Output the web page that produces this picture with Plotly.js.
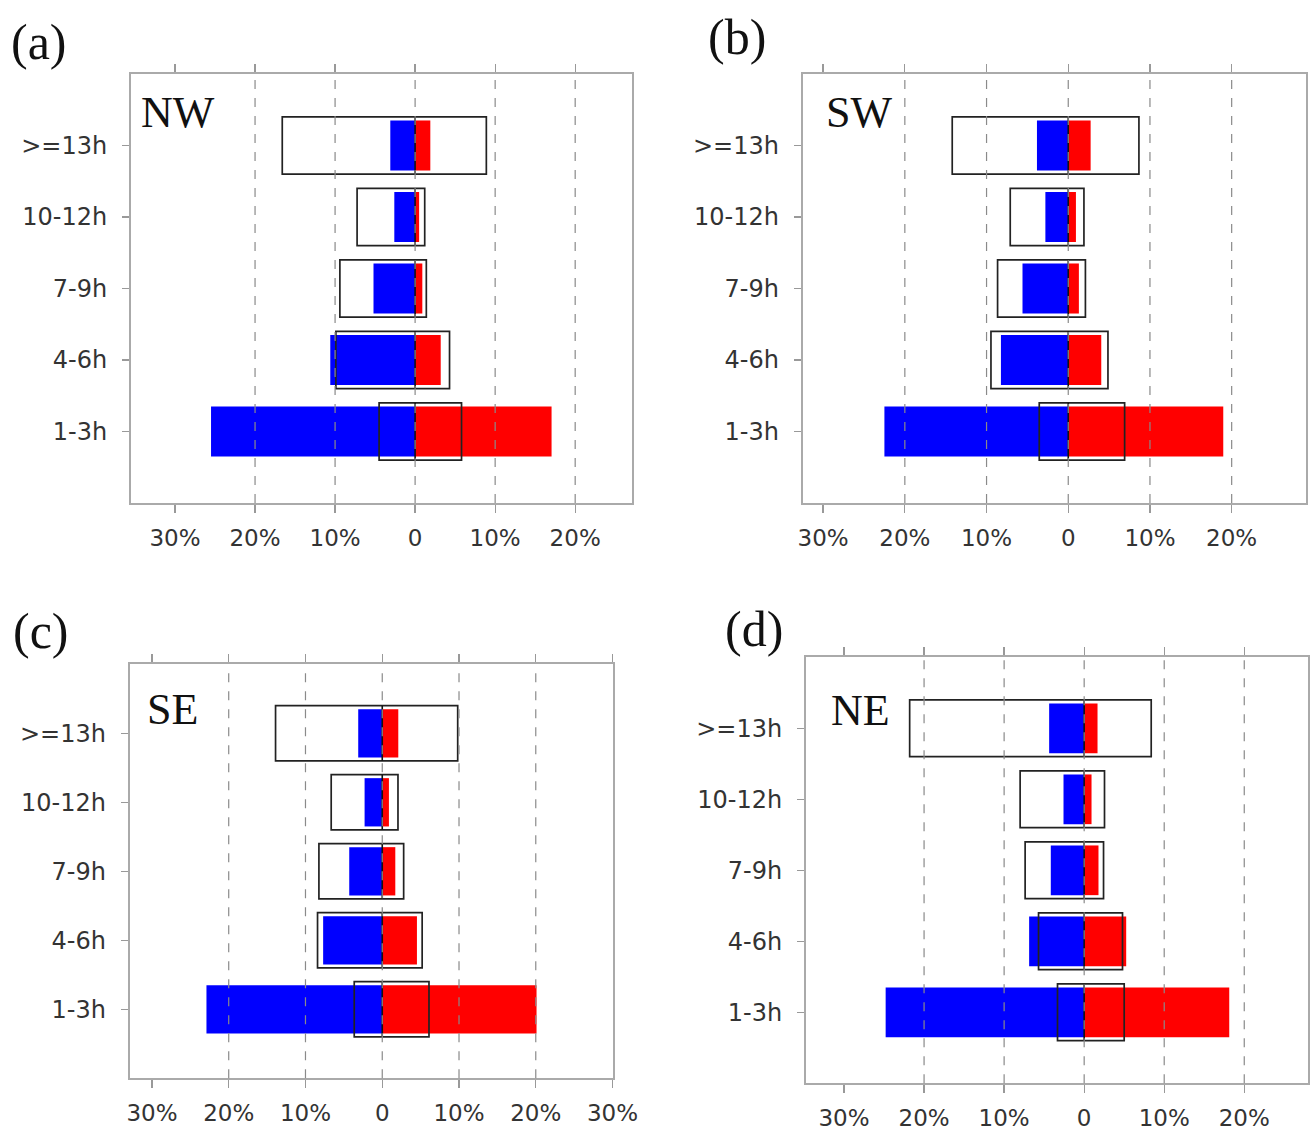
<!DOCTYPE html>
<html>
<head>
<meta charset="utf-8">
<script src="https://cdn.plot.ly/plotly-3.0.1.min.js"></script>
<style>html,body{margin:0;padding:0;background:#fff;}#chart{width:1311px;height:1131px;}</style>
</head>
<body>
<div id="chart"></div>
<script>
// ---- data (percent) ----
const categories = ['1-3h', '4-6h', '7-9h', '10-12h', '>=13h'];

const nwNeg = [-25.5, -10.6, -5.2, -2.6, -3.1];
const nwPos = [17.05, 3.2, 0.9, 0.5, 1.9];
const nwBoxLo = [-4.5, -9.9, -9.4, -7.25, -16.6];
const nwBoxHi = [5.8, 4.3, 1.4, 1.2, 8.9];

const swNeg = [-22.5, -8.24, -5.6, -2.8, -3.83];
const swPos = [18.97, 4.04, 1.3, 0.94, 2.74];
const swBoxLo = [-3.55, -9.46, -8.65, -7.1, -14.2];
const swBoxHi = [6.9, 4.86, 2.1, 1.92, 8.65];

const seNeg = [-22.9, -7.7, -4.3, -2.3, -3.13];
const sePos = [20.1, 4.52, 1.7, 0.87, 2.09];
const seBoxLo = [-3.65, -8.43, -8.25, -6.65, -13.9];
const seBoxHi = [6.09, 5.2, 2.79, 2.05, 9.83];

const neNeg = [-24.8, -6.875, -4.17, -2.58, -4.375];
const nePos = [18.125, 5.25, 1.79, 0.92, 1.67];
const neBoxLo = [-3.33, -5.7, -7.375, -8.0, -21.8];
const neBoxHi = [5.0, 4.79, 2.42, 2.54, 8.375];

const tickVals4 = [-30, -20, -10, 0, 10, 20];
const tickVals3 = [-30, -20, -10, 0, 10, 20, 30];
const gridVals = [-20, -10, 0, 10, 20];

const panelLetters = ['(a)', '(b)', '(c)', '(d)'];
const panelNames = ['NW', 'SW', 'SE', 'NE'];

// ---- layout geometry (pixels) ----
const W = 1311, H = 1131;
const panels = [
  {name: panelNames[0], neg: nwNeg, pos: nwPos, lo: nwBoxLo, hi: nwBoxHi, px: [131, 632], py: [74, 503], xr: [-35.5, 27.1], ticks: tickVals4,
   letter: {x: 9, y: 42}, label: {x: 139, y: 112}},
  {name: panelNames[1], neg: swNeg, pos: swPos, lo: swBoxLo, hi: swBoxHi, px: [802.7, 1305.7], py: [74, 503], xr: [-32.5, 29.06], ticks: tickVals4,
   letter: {x: 706, y: 37}, label: {x: 824, y: 112}},
  {name: panelNames[2], neg: seNeg, pos: sePos, lo: seBoxLo, hi: seBoxHi, px: [129.7, 613.3], py: [664.3, 1078.3], xr: [-32.9, 30.1], ticks: tickVals3,
   letter: {x: 11, y: 631}, label: {x: 145, y: 709}},
  {name: panelNames[3], neg: neNeg, pos: nePos, lo: neBoxLo, hi: neBoxHi, px: [806, 1308.3], py: [657.3, 1083.3], xr: [-34.75, 28.0], ticks: tickVals4,
   letter: {x: 723, y: 629}, label: {x: 829, y: 710}}
];

const yPos = categories.map((c, i) => i + 1);
const traces = [];
const shapes = [];
const annotations = [];
const layout = {
  width: W, height: H,
  margin: {l: 0, r: 0, t: 0, b: 0},
  paper_bgcolor: '#fff', plot_bgcolor: '#fff',
  showlegend: false,
  barmode: 'overlay',
  font: {family: 'DejaVu Sans', color: '#333'}
};

panels.forEach((p, k) => {
  const xa = 'x' + (k === 0 ? '' : k + 1);
  const ya = 'y' + (k === 0 ? '' : k + 1);
  const xKey = 'xaxis' + (k === 0 ? '' : k + 1);
  const yKey = 'yaxis' + (k === 0 ? '' : k + 1);

  traces.push({type: 'bar', orientation: 'h', x: p.neg, y: yPos, width: 0.7, xaxis: xa, yaxis: ya,
    marker: {color: '#0000FF', line: {width: 0}}, hoverinfo: 'x+y'});
  traces.push({type: 'bar', orientation: 'h', x: p.pos, y: yPos, width: 0.7, xaxis: xa, yaxis: ya,
    marker: {color: '#FF0000', line: {width: 0}}, hoverinfo: 'x+y'});
  traces.push({type: 'bar', orientation: 'h', base: p.lo, x: p.hi.map((h, i) => h - p.lo[i]), y: yPos, width: 0.8,
    xaxis: xa, yaxis: ya, marker: {color: 'rgba(0,0,0,0)', line: {color: '#222', width: 1.7}}, hoverinfo: 'none'});
  // dark zero segment across each bar
  const zx = [], zy = [];
  yPos.forEach(v => { zx.push(0, 0, null); zy.push(v - 0.4, v + 0.4, null); });
  traces.push({type: 'scatter', mode: 'lines', x: zx, y: zy, xaxis: xa, yaxis: ya,
    line: {color: '#111', width: 1.6}, hoverinfo: 'none'});

  layout[xKey] = {
    domain: [p.px[0] / W, p.px[1] / W],
    anchor: ya,
    range: p.xr,
    tickvals: p.ticks,
    ticktext: p.ticks.map(v => v === 0 ? '0' : Math.abs(v) + '%'),
    ticks: 'outside', ticklen: 8, tickwidth: 1.3, tickcolor: '#999',
    ticklabelstandoff: 5,
    tickfont: {family: 'DejaVu Sans', size: 23, color: '#333'},
    showgrid: false, zeroline: false,
    showline: true, mirror: 'ticks', linecolor: '#aaa', linewidth: 2,
    fixedrange: true
  };
  layout[yKey] = {
    domain: [1 - p.py[1] / H, 1 - p.py[0] / H],
    anchor: xa,
    range: [0, 6],
    tickvals: yPos,
    ticktext: categories,
    ticks: 'outside', ticklen: 7, tickwidth: 1.3, tickcolor: '#999',
    ticklabelstandoff: 10,
    tickfont: {family: 'DejaVu Sans', size: 24, color: '#333'},
    showgrid: false, zeroline: false,
    showline: true, mirror: true, linecolor: '#aaa', linewidth: 2,
    fixedrange: true
  };

  gridVals.forEach(g => {
    shapes.push({type: 'line', xref: xa, yref: ya + ' domain', x0: g, x1: g, y0: 0, y1: 1,
      line: {color: '#8a8a8a', width: 1.2, dash: 'dash'}, layer: 'above'});
  });

  annotations.push({xref: 'paper', yref: 'paper', x: p.letter.x / W, y: 1 - p.letter.y / H,
    xanchor: 'left', yanchor: 'middle', showarrow: false, text: panelLetters[k],
    font: {family: 'Liberation Serif', size: 50, color: '#111'}});
  annotations.push({xref: 'paper', yref: 'paper', x: p.label.x / W, y: 1 - p.label.y / H,
    xanchor: 'left', yanchor: 'middle', showarrow: false, text: p.name,
    font: {family: 'Liberation Serif', size: 44, color: '#111'}});
});

layout.shapes = shapes;
layout.annotations = annotations;

Plotly.newPlot('chart', traces, layout, {displayModeBar: false, staticPlot: true});
</script>
</body>
</html>
